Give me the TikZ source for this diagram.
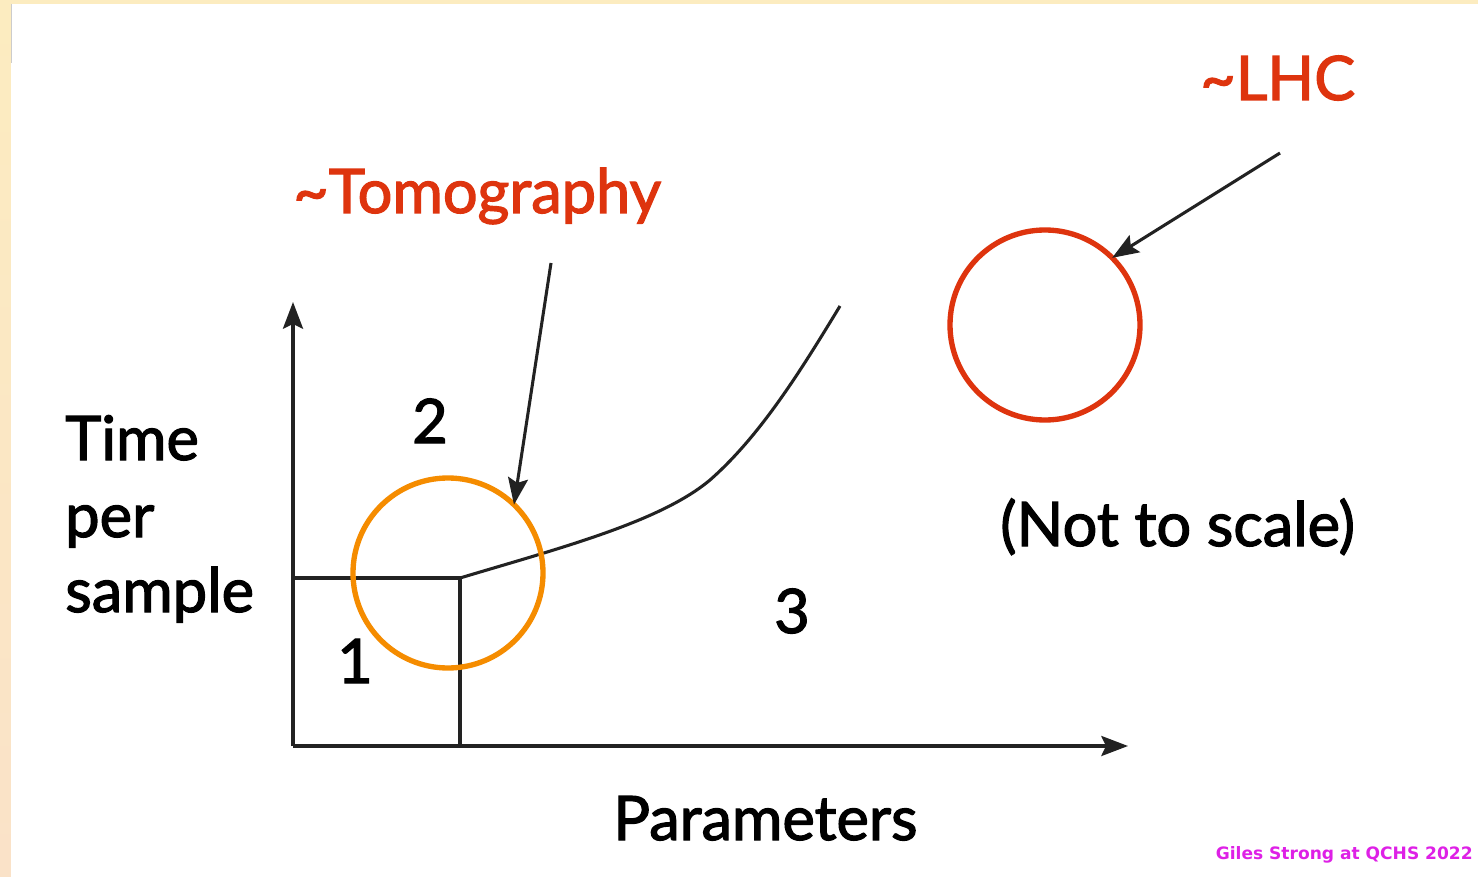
\documentclass[tikz,border=0pt]{standalone}
\usepackage{fontspec}
\setmainfont[FakeBold=2]{Lato}
\newfontfamily\wmfont{DejaVu Sans}
\usetikzlibrary{arrows.meta,shadings}
\definecolor{tred}{RGB}{222,52,14}
\definecolor{torange}{RGB}{245,140,0}
\definecolor{tink}{RGB}{34,34,34}
\definecolor{wmag}{RGB}{222,32,230}
\definecolor{creamtop}{RGB}{252,236,192}
\definecolor{creambot}{RGB}{250,226,200}
\tikzset{
  axis/.style={draw=tink, line width=2.5pt, -{Stealth[length=20pt,width=15pt,inset=3.5pt]}},
  thin/.style={draw=tink, line width=2.3pt},
  pointer/.style={draw=tink, line width=2.3pt, -{Stealth[length=20pt,width=15pt,inset=3.5pt]}},
  ring/.style={circle, draw, line width=4pt, minimum size=142.5pt, inner sep=0pt, outer sep=0pt},
  big/.style={font=\fontsize{46}{50}\selectfont, inner sep=0pt, text=black},
  lab/.style={font=\fontsize{46}{50}\selectfont, inner sep=0pt, text=tred},
}
\begin{document}
\begin{tikzpicture}[x=0.75pt,y=-0.75pt]
\useasboundingbox (0,0) rectangle (1478,877);
\shade[top color=creamtop, bottom color=creambot] (0,0) rectangle (1478,877);
\fill[white] (11,4) rectangle (1478,877);
\draw[black!20, line width=0.6pt] (11,4) -- (11,63);
% axes
\coordinate (O) at (293,746);
\coordinate (ytip) at (293,302);
\coordinate (xtip) at (1128,746);
\draw[axis] (O) -- (ytip);
\draw[axis] (O) -- (xtip);
% box
\coordinate (bl) at (293,578);
\coordinate (corner) at (460,578);
\coordinate (bb) at (460,746);
\draw[thin] (bl) -- (corner) -- (bb);
% curve
\coordinate (cend) at (840,306);
\draw[thin] (corner) .. controls (560,548) and (660,522) .. (710,480) .. controls (760,436) and (800,372) .. (cend);
% circles
\node[ring, draw=torange] (tomo) at (448,573) {};
\node[ring, draw=tred] (lhc) at (1045,325) {};
% pointers
\coordinate (tstart) at (551,263);
\coordinate (lstart) at (1280,153);
\draw[pointer] (tstart) -- (tomo.46);
\draw[pointer] (lstart) -- (lhc.45);
% labels
\node[lab, anchor=base west] (tomolab) at (293,213) {\char"007ETomography};
\node[lab, anchor=base west] (lhclab) at (1200,100) {\char"007ELHC};
\node[big, anchor=base west] (time) at (65,460) {Time};
\node[big, anchor=base west] (per) at (65,537) {per};
\node[big, anchor=base west] (sample) at (65,612) {sample};
\node[big, anchor=base] (two) at (430,443) {2};
\node[big, anchor=base] (one) at (355,683) {1};
\node[big, anchor=base] (three) at (792,633) {3};
\node[big, anchor=base west] (params) at (613,840) {Parameters};
\node[big, anchor=base west] (scale) at (1000,546) {(Not to scale)};
\node[font=\wmfont\bfseries\fontsize{12.8}{15}\selectfont, text=wmag, inner sep=0pt, anchor=base east] (wm) at (1473,859) {Giles Strong at QCHS 2022};
\end{tikzpicture}
\end{document}
